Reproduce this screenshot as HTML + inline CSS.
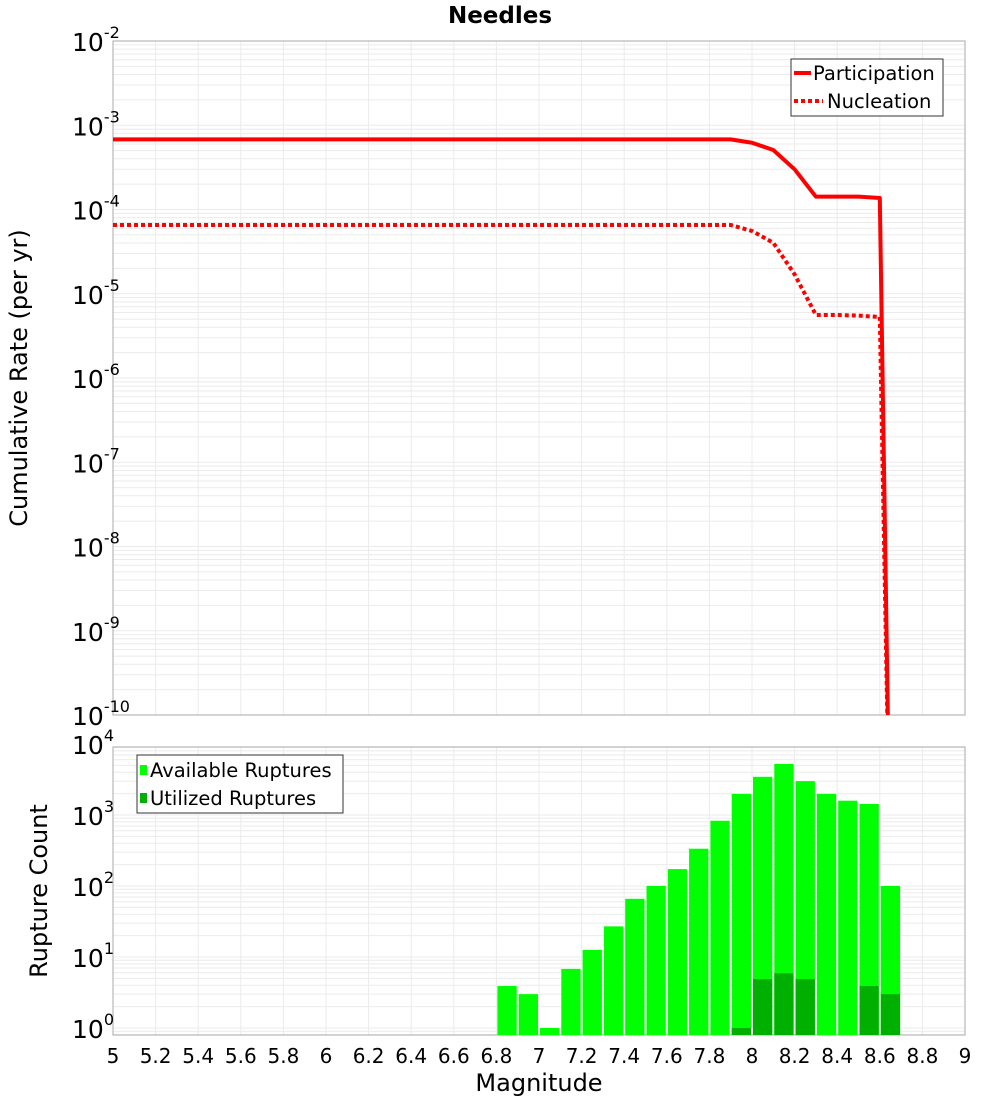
<!DOCTYPE html>
<html><head><meta charset="utf-8"><style>
body{margin:0;background:#fff;font-family:"Liberation Sans","DejaVu Sans",sans-serif;}
svg text{font-family:"DejaVu Sans","Liberation Sans",sans-serif;}
</style></head><body>
<svg id="c" width="1000" height="1100" xmlns="http://www.w3.org/2000/svg"></svg>
<script>
const magTicks=[5,5.2,5.4,5.6,5.8,6,6.2,6.4,6.6,6.8,7,7.2,7.4,7.6,7.8,8,8.2,8.4,8.6,8.8,9];
const rateMags=[5,7.9,8.0,8.1,8.2,8.3,8.4,8.5,8.6,8.65];
const participation=[6.8e-4,6.8e-4,6.2e-4,5.08e-4,3.0e-4,1.42e-4,1.42e-4,1.42e-4,1.37e-4,1e-12];
const nucleation=[6.55e-5,6.55e-5,5.56e-5,4.03e-5,1.7e-5,5.6e-6,5.6e-6,5.5e-6,5.3e-6,1e-12];
const binMags=[6.85,6.95,7.05,7.15,7.25,7.35,7.45,7.55,7.65,7.75,7.85,7.95,8.05,8.15,8.25,8.35,8.45,8.55,8.65];
const available=[3.9,3,1,6.8,12.6,27,66,100,173,335,830,1980,3450,5240,3000,1980,1590,1430,100];
const utilized=[0,0,0,0,0,0,0,0,0,0,0,1,4.9,5.9,4.9,0,0,3.9,3];
const rateExps=[-2,-3,-4,-5,-6,-7,-8,-9,-10];
const countExps=[0,1,2,3,4];

const S=document.getElementById('c'),NS='http://www.w3.org/2000/svg';
function mk(t,a,p){const e=document.createElementNS(NS,t);for(const k in a)e.setAttribute(k,a[k]);(p||S).appendChild(e);return e;}
const X0=113,X1=965;
const xs=m=>X0+(m-5)/4*(X1-X0);
const T0=41,T1=715;
const yT=v=>T0+(-2-Math.log10(v))*(T1-T0)/8;
const B0=747,B1=1035,BL0=1028,BD=71;
const yB=v=>BL0-Math.log10(v)*BD;

let g=mk('g',{});

for(let e=-10;e<-2;e++)for(let k=1;k<10;k++){const y=yT(k*Math.pow(10,e));if(y<T0||y>T1)continue;mk('line',{x1:X0,x2:X1,y1:y,y2:y,stroke:'#ebebeb','stroke-width':1},g);}
magTicks.forEach(m=>{mk('line',{x1:xs(m),x2:xs(m),y1:T0,y2:T1,stroke:'#ebebeb'},g);mk('line',{x1:xs(m),x2:xs(m),y1:B0,y2:B1,stroke:'#ebebeb'},g);});
for(let e=-1;e<4;e++)for(let k=1;k<10;k++){const y=yB(k*Math.pow(10,e));if(y<B0||y>B1)continue;mk('line',{x1:X0,x2:X1,y1:y,y2:y,stroke:'#ebebeb'},g);}
let f1=mk('rect',{x:X0,y:T0,width:X1-X0,height:T1-T0,fill:'none',stroke:'#aaa'});

let f2=mk('rect',{x:X0,y:B0,width:X1-X0,height:B1-B0,fill:'none',stroke:'#aaa'});


const defs=mk('defs',{});
const cp=mk('clipPath',{id:'ct'},defs);mk('rect',{x:X0,y:T0,width:X1-X0,height:T1-T0},cp);
function pts(arr){return rateMags.map((m,i)=>xs(m)+','+yT(arr[i])).join(' ');}
let lp=mk('polyline',{points:pts(participation),fill:'none',stroke:'#f00','stroke-width':4,'clip-path':'url(#ct)','stroke-linejoin':'round'});

let ln=mk('polyline',{points:pts(nucleation),fill:'none',stroke:'#f00','stroke-width':4,'stroke-dasharray':'4,3','clip-path':'url(#ct)'});


const bw=(xs(0.1)-xs(0))-2;
binMags.forEach((m,i)=>{
 const x=xs(m)-bw/2;
 if(available[i]>0){const y=Math.max(yB(available[i]),B0);let r=mk('rect',{x:x,y:y,width:bw,height:B1-y,fill:'#00ff00'});
 }
 if(utilized[i]>0){const y=yB(utilized[i]);let r=mk('rect',{x:x,y:y,width:bw,height:B1-y,fill:'#00b000'});
 }
});

magTicks.forEach(m=>{let t=mk('text',{x:xs(m),y:1063,'font-size':20,'text-anchor':'middle'});t.textContent=String(m);
});
function expLabel(y,e,nm){let t=mk('text',{x:72,y:y+10,'font-size':25});
 const a=document.createElementNS(NS,'tspan');a.textContent='10';t.appendChild(a);
 const b=document.createElementNS(NS,'tspan');b.setAttribute('dy','-13');b.setAttribute('font-size','16');b.textContent=String(e);t.appendChild(b);
 
 return t;}
rateExps.forEach(e=>expLabel(yT(Math.pow(10,e)),e,'y-tick-label'));
countExps.forEach(e=>expLabel(yB(Math.pow(10,e)),e,'count-tick-label'));

function txt(s,a,nm){let t=mk('text',a);t.textContent=s;return t;}
txt('Needles',{x:500,y:23,'font-size':23,'font-weight':'bold','text-anchor':'middle'},'chart-title');
txt('Cumulative Rate (per yr)',{x:0,y:0,'font-size':24,'text-anchor':'middle',transform:'translate(27,378) rotate(-90)'},'y-axis-title');
txt('Rupture Count',{x:0,y:0,'font-size':24,'text-anchor':'middle',transform:'translate(47,891) rotate(-90)'},'count-axis-title');
txt('Magnitude',{x:539,y:1091,'font-size':24,'text-anchor':'middle'},'x-axis-title');

let lg=mk('g',{});
mk('rect',{x:791,y:59,width:152,height:57,fill:'#fff',stroke:'#333'},lg);
mk('line',{x1:794,x2:811,y1:73,y2:73,stroke:'#f00','stroke-width':4},lg);
mk('line',{x1:794,x2:823,y1:101,y2:101,stroke:'#f00','stroke-width':4,'stroke-dasharray':'4,3'},lg);
let t1=mk('text',{x:813,y:80,'font-size':19.5},lg);t1.textContent='Participation';
let t2=mk('text',{x:827,y:108,'font-size':19.5},lg);t2.textContent='Nucleation';
let lg2=mk('g',{});
mk('rect',{x:137,y:755,width:206,height:58,fill:'#fff',stroke:'#333'},lg2);
mk('rect',{x:140,y:765,width:7,height:10,fill:'#00ff00'},lg2);
mk('rect',{x:140,y:793,width:7,height:10,fill:'#00b000'},lg2);
let t3=mk('text',{x:150,y:777,'font-size':19.5},lg2);t3.textContent='Available Ruptures';
let t4=mk('text',{x:150,y:805,'font-size':19.5},lg2);t4.textContent='Utilized Ruptures';
</script>
</body></html>
